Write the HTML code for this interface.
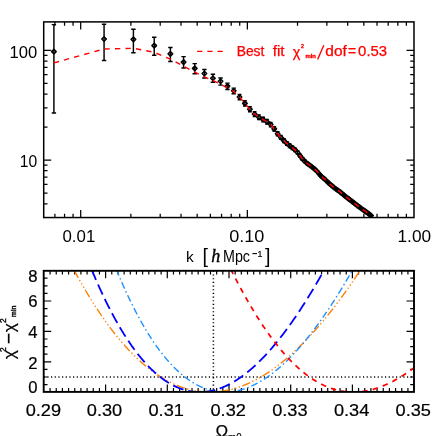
<!DOCTYPE html>
<html><head><meta charset="utf-8"><style>
html,body{margin:0;padding:0;background:#fff;}
svg{display:block;will-change:transform;font-family:"Liberation Sans",sans-serif;}
</style></head><body>
<svg width="436" height="436" viewBox="0 0 436 436">
<rect width="436" height="436" fill="#fff"/>
<path d="M54.89 217.55v-3.80M54.89 21.90v3.80M64.55 217.55v-3.80M64.55 21.90v3.80M73.07 217.55v-3.80M73.07 21.90v3.80M80.70 217.55v-7.50M80.70 21.90v7.50M130.87 217.55v-3.80M130.87 21.90v3.80M160.21 217.55v-3.80M160.21 21.90v3.80M181.03 217.55v-3.80M181.03 21.90v3.80M197.18 217.55v-3.80M197.18 21.90v3.80M210.38 217.55v-3.80M210.38 21.90v3.80M221.54 217.55v-3.80M221.54 21.90v3.80M231.20 217.55v-3.80M231.20 21.90v3.80M239.72 217.55v-3.80M239.72 21.90v3.80M247.35 217.55v-7.50M247.35 21.90v7.50M297.52 217.55v-3.80M297.52 21.90v3.80M326.86 217.55v-3.80M326.86 21.90v3.80M347.68 217.55v-3.80M347.68 21.90v3.80M363.83 217.55v-3.80M363.83 21.90v3.80M377.03 217.55v-3.80M377.03 21.90v3.80M388.19 217.55v-3.80M388.19 21.90v3.80M397.85 217.55v-3.80M397.85 21.90v3.80M406.37 217.55v-3.80M406.37 21.90v3.80M43.70 203.75h3.80M414.00 203.75h-3.80M43.70 193.12h3.80M414.00 193.12h-3.80M43.70 184.44h3.80M414.00 184.44h-3.80M43.70 177.09h3.80M414.00 177.09h-3.80M43.70 170.73h3.80M414.00 170.73h-3.80M43.70 165.12h3.80M414.00 165.12h-3.80M43.70 160.10h7.50M414.00 160.10h-7.50M43.70 127.08h3.80M414.00 127.08h-3.80M43.70 107.76h3.80M414.00 107.76h-3.80M43.70 94.05h3.80M414.00 94.05h-3.80M43.70 83.42h3.80M414.00 83.42h-3.80M43.70 74.74h3.80M414.00 74.74h-3.80M43.70 67.39h3.80M414.00 67.39h-3.80M43.70 61.03h3.80M414.00 61.03h-3.80M43.70 55.42h3.80M414.00 55.42h-3.80M43.70 50.40h7.50M414.00 50.40h-7.50" stroke="#000" stroke-width="1.25" fill="none"/>
<clipPath id="ct"><rect x="43.7" y="21.9" width="370.3" height="195.65"/></clipPath>
<g clip-path="url(#ct)"><path d="M53.90 24.60V112.90M51.70 24.60h4.4M51.70 112.90h4.4M104.07 24.30V60.40M101.87 24.30h4.4M101.87 60.40h4.4M133.41 29.30V52.80M131.21 29.30h4.4M131.21 52.80h4.4M154.23 37.30V55.30M152.03 37.30h4.4M152.03 55.30h4.4M170.38 47.40V61.40M168.18 47.40h4.4M168.18 61.40h4.4M183.58 56.60V67.90M181.38 56.60h4.4M181.38 67.90h4.4M194.74 63.60V73.70M192.54 63.60h4.4M192.54 73.70h4.4M204.40 69.40V78.00M202.20 69.40h4.4M202.20 78.00h4.4M212.92 74.20V82.30M210.72 74.20h4.4M210.72 82.30h4.4M220.55 78.00V85.10M218.35 78.00h4.4M218.35 85.10h4.4M227.45 83.10V89.40M225.25 83.10h4.4M225.25 89.40h4.4M233.75 88.10V93.70M231.55 88.10h4.4M231.55 93.70h4.4M239.54 94.41V99.67M237.64 94.41h3.8M237.64 99.67h3.8M244.90 100.84V105.96M243.00 100.84h3.8M243.00 105.96h3.8M249.90 106.81V111.79M248.00 106.81h3.8M248.00 111.79h3.8M254.57 111.65V116.49M252.67 111.65h3.8M252.67 116.49h3.8M258.95 114.85V119.55M257.05 114.85h3.8M257.05 119.55h3.8M263.09 117.31V121.87M261.19 117.31h3.8M261.19 121.87h3.8M267.00 119.59V124.01M265.10 119.59h3.8M265.10 124.01h3.8M270.72 122.38V126.66M268.82 122.38h3.8M268.82 126.66h3.8M274.25 126.79V130.93M272.35 126.79h3.8M272.35 130.93h3.8M277.61 131.72V135.72M275.71 131.72h3.8M275.71 135.72h3.8M280.83 135.50V139.36M278.93 135.50h3.8M278.93 139.36h3.8M283.91 138.75V142.47M282.01 138.75h3.8M282.01 142.47h3.8M286.87 141.68V145.26M284.97 141.68h3.8M284.97 145.26h3.8M289.71 144.05V147.49M287.81 144.05h3.8M287.81 147.49h3.8M292.44 146.12V149.42M290.54 146.12h3.8M290.54 149.42h3.8M295.07 148.28V151.44M293.17 148.28h3.8M293.17 151.44h3.8M297.61 150.90V153.92M295.71 150.90h3.8M295.71 153.92h3.8M300.06 154.23V157.11M298.16 154.23h3.8M298.16 157.11h3.8M302.44 157.53V160.27M300.54 157.53h3.8M300.54 160.27h3.8M304.73 159.97V162.57M302.83 159.97h3.8M302.83 162.57h3.8M306.96 161.98V164.44M305.06 161.98h3.8M305.06 164.44h3.8M309.12 163.64V165.96M307.22 163.64h3.8M307.22 165.96h3.8M311.22 165.23V167.41M309.32 165.23h3.8M309.32 167.41h3.8M313.26 166.93V168.97M311.36 166.93h3.8M311.36 168.97h3.8M315.24 168.68V170.58M313.34 168.68h3.8M313.34 170.58h3.8M317.17 170.62V172.38M315.27 170.62h3.8M315.27 172.38h3.8M319.05 172.94V174.56M317.15 172.94h3.8M317.15 174.56h3.8M320.88 175.08V176.68M318.98 175.08h3.8M318.98 176.68h3.8M322.67 176.70V178.30M320.77 176.70h3.8M320.77 178.30h3.8M324.41 178.09V179.69M322.51 178.09h3.8M322.51 179.69h3.8M326.12 179.66V181.26M324.22 179.66h3.8M324.22 181.26h3.8M327.78 181.31V182.91M325.88 181.31h3.8M325.88 182.91h3.8M329.41 182.80V184.40M327.51 182.80h3.8M327.51 184.40h3.8M331.00 184.22V185.82M329.10 184.22h3.8M329.10 185.82h3.8M332.56 185.55V187.15M330.66 185.55h3.8M330.66 187.15h3.8M334.08 186.79V188.39M332.18 186.79h3.8M332.18 188.39h3.8M335.57 187.91V189.51M333.67 187.91h3.8M333.67 189.51h3.8M337.03 188.89V190.49M335.13 188.89h3.8M335.13 190.49h3.8M338.47 189.86V191.46M336.57 189.86h3.8M336.57 191.46h3.8M339.87 190.93V192.53M337.97 190.93h3.8M337.97 192.53h3.8M341.25 192.06V193.66M339.35 192.06h3.8M339.35 193.66h3.8M342.60 193.20V194.80M340.70 193.20h3.8M340.70 194.80h3.8M343.93 194.33V195.93M342.03 194.33h3.8M342.03 195.93h3.8M345.24 195.39V196.99M343.34 195.39h3.8M343.34 196.99h3.8M346.52 196.40V198.00M344.62 196.40h3.8M344.62 198.00h3.8M347.78 197.38V198.98M345.88 197.38h3.8M345.88 198.98h3.8M349.01 198.33V199.93M347.11 198.33h3.8M347.11 199.93h3.8M350.23 199.26V200.86M348.33 199.26h3.8M348.33 200.86h3.8M351.43 200.18V201.78M349.53 200.18h3.8M349.53 201.78h3.8M352.60 201.08V202.68M350.70 201.08h3.8M350.70 202.68h3.8M353.76 201.97V203.57M351.86 201.97h3.8M351.86 203.57h3.8M354.90 202.84V204.44M353.00 202.84h3.8M353.00 204.44h3.8M356.02 203.70V205.30M354.12 203.70h3.8M354.12 205.30h3.8M357.13 204.55V206.15M355.23 204.55h3.8M355.23 206.15h3.8M358.22 205.37V206.97M356.32 205.37h3.8M356.32 206.97h3.8M359.29 206.17V207.77M357.39 206.17h3.8M357.39 207.77h3.8M360.34 206.95V208.55M358.44 206.95h3.8M358.44 208.55h3.8M361.39 207.71V209.31M359.49 207.71h3.8M359.49 209.31h3.8M362.41 208.44V210.04M360.51 208.44h3.8M360.51 210.04h3.8M363.42 209.15V210.75M361.52 209.15h3.8M361.52 210.75h3.8M364.42 209.86V211.46M362.52 209.86h3.8M362.52 211.46h3.8M365.41 210.56V212.16M363.51 210.56h3.8M363.51 212.16h3.8M366.38 211.26V212.86M364.48 211.26h3.8M364.48 212.86h3.8M367.34 211.95V213.55M365.44 211.95h3.8M365.44 213.55h3.8M368.28 212.64V214.24M366.38 212.64h3.8M366.38 214.24h3.8M369.22 213.32V214.92M367.32 213.32h3.8M367.32 214.92h3.8M370.14 214.00V215.60M368.24 214.00h3.8M368.24 215.60h3.8M371.05 214.67V216.27M369.15 214.67h3.8M369.15 216.27h3.8" stroke="#000" stroke-width="1.45" fill="none"/>
<path d="M51.65 51.60L53.90 49.35L56.15 51.60L53.90 53.85ZM101.82 39.00L104.07 36.75L106.32 39.00L104.07 41.25ZM131.16 39.40L133.41 37.15L135.66 39.40L133.41 41.65ZM151.98 45.60L154.23 43.35L156.48 45.60L154.23 47.85ZM168.13 53.90L170.38 51.65L172.63 53.90L170.38 56.15ZM181.33 62.10L183.58 59.85L185.83 62.10L183.58 64.35ZM192.49 68.40L194.74 66.15L196.99 68.40L194.74 70.65ZM202.15 73.50L204.40 71.25L206.65 73.50L204.40 75.75ZM210.67 78.30L212.92 76.05L215.17 78.30L212.92 80.55ZM218.30 81.30L220.55 79.05L222.80 81.30L220.55 83.55ZM225.20 86.10L227.45 83.85L229.70 86.10L227.45 88.35ZM231.50 90.80L233.75 88.55L236.00 90.80L233.75 93.05ZM237.29 97.04L239.54 94.79L241.79 97.04L239.54 99.29ZM242.65 103.40L244.90 101.15L247.15 103.40L244.90 105.65ZM247.65 109.30L249.90 107.05L252.15 109.30L249.90 111.55ZM252.32 114.07L254.57 111.82L256.82 114.07L254.57 116.32ZM256.70 117.20L258.95 114.95L261.20 117.20L258.95 119.45ZM260.84 119.59L263.09 117.34L265.34 119.59L263.09 121.84ZM264.75 121.80L267.00 119.55L269.25 121.80L267.00 124.05ZM268.47 124.52L270.72 122.27L272.97 124.52L270.72 126.77ZM272.00 128.86L274.25 126.61L276.50 128.86L274.25 131.11ZM275.36 133.72L277.61 131.47L279.86 133.72L277.61 135.97ZM278.58 137.43L280.83 135.18L283.08 137.43L280.83 139.68ZM281.66 140.61L283.91 138.36L286.16 140.61L283.91 142.86ZM284.62 143.47L286.87 141.22L289.12 143.47L286.87 145.72ZM287.46 145.77L289.71 143.52L291.96 145.77L289.71 148.02ZM290.19 147.77L292.44 145.52L294.69 147.77L292.44 150.02ZM292.82 149.86L295.07 147.61L297.32 149.86L295.07 152.11ZM295.36 152.41L297.61 150.16L299.86 152.41L297.61 154.66ZM297.81 155.67L300.06 153.42L302.31 155.67L300.06 157.92ZM300.19 158.90L302.44 156.65L304.69 158.90L302.44 161.15ZM302.48 161.27L304.73 159.02L306.98 161.27L304.73 163.52ZM304.71 163.21L306.96 160.96L309.21 163.21L306.96 165.46ZM306.87 164.80L309.12 162.55L311.37 164.80L309.12 167.05ZM308.97 166.32L311.22 164.07L313.47 166.32L311.22 168.57ZM311.01 167.95L313.26 165.70L315.51 167.95L313.26 170.20ZM312.99 169.63L315.24 167.38L317.49 169.63L315.24 171.88ZM314.92 171.50L317.17 169.25L319.42 171.50L317.17 173.75ZM316.80 173.75L319.05 171.50L321.30 173.75L319.05 176.00ZM318.63 175.88L320.88 173.63L323.13 175.88L320.88 178.13ZM320.42 177.50L322.67 175.25L324.92 177.50L322.67 179.75ZM322.16 178.89L324.41 176.64L326.66 178.89L324.41 181.14ZM323.87 180.46L326.12 178.21L328.37 180.46L326.12 182.71ZM325.53 182.11L327.78 179.86L330.03 182.11L327.78 184.36ZM327.16 183.60L329.41 181.35L331.66 183.60L329.41 185.85ZM328.75 185.02L331.00 182.77L333.25 185.02L331.00 187.27ZM330.31 186.35L332.56 184.10L334.81 186.35L332.56 188.60ZM331.83 187.59L334.08 185.34L336.33 187.59L334.08 189.84ZM333.32 188.71L335.57 186.46L337.82 188.71L335.57 190.96ZM334.78 189.69L337.03 187.44L339.28 189.69L337.03 191.94ZM336.22 190.66L338.47 188.41L340.72 190.66L338.47 192.91ZM337.62 191.73L339.87 189.48L342.12 191.73L339.87 193.98ZM339.00 192.86L341.25 190.61L343.50 192.86L341.25 195.11ZM340.35 194.00L342.60 191.75L344.85 194.00L342.60 196.25ZM341.68 195.13L343.93 192.88L346.18 195.13L343.93 197.38ZM342.99 196.19L345.24 193.94L347.49 196.19L345.24 198.44ZM344.27 197.20L346.52 194.95L348.77 197.20L346.52 199.45ZM345.53 198.18L347.78 195.93L350.03 198.18L347.78 200.43ZM346.76 199.13L349.01 196.88L351.26 199.13L349.01 201.38ZM347.98 200.06L350.23 197.81L352.48 200.06L350.23 202.31ZM349.18 200.98L351.43 198.73L353.68 200.98L351.43 203.23ZM350.35 201.88L352.60 199.63L354.85 201.88L352.60 204.13ZM351.51 202.77L353.76 200.52L356.01 202.77L353.76 205.02ZM352.65 203.64L354.90 201.39L357.15 203.64L354.90 205.89ZM353.77 204.50L356.02 202.25L358.27 204.50L356.02 206.75ZM354.88 205.35L357.13 203.10L359.38 205.35L357.13 207.60ZM355.97 206.17L358.22 203.92L360.47 206.17L358.22 208.42ZM357.04 206.97L359.29 204.72L361.54 206.97L359.29 209.22ZM358.09 207.75L360.34 205.50L362.59 207.75L360.34 210.00ZM359.14 208.51L361.39 206.26L363.64 208.51L361.39 210.76ZM360.16 209.24L362.41 206.99L364.66 209.24L362.41 211.49ZM361.17 209.95L363.42 207.70L365.67 209.95L363.42 212.20ZM362.17 210.66L364.42 208.41L366.67 210.66L364.42 212.91ZM363.16 211.36L365.41 209.11L367.66 211.36L365.41 213.61ZM364.13 212.06L366.38 209.81L368.63 212.06L366.38 214.31ZM365.09 212.75L367.34 210.50L369.59 212.75L367.34 215.00ZM366.03 213.44L368.28 211.19L370.53 213.44L368.28 215.69ZM366.97 214.12L369.22 211.87L371.47 214.12L369.22 216.37ZM367.89 214.80L370.14 212.55L372.39 214.80L370.14 217.05ZM368.80 215.47L371.05 213.22L373.30 215.47L371.05 217.72Z" stroke="#000" stroke-width="1.5" fill="none" stroke-linejoin="round"/>
<polyline points="53.90,62.90 104.07,48.97 133.41,48.30 154.23,52.31 170.38,59.09 183.58,66.19 194.74,72.22 204.40,76.80 212.92,80.51 220.55,84.32 227.45,87.63 233.75,91.53 239.54,97.04 244.90,103.40 249.90,109.30 254.57,114.07 258.95,117.20 263.09,119.59 267.00,121.80 270.72,124.52 274.25,128.86 277.61,133.72 280.83,137.43 283.91,140.61 286.87,143.47 289.71,145.77 292.44,147.77 295.07,149.86 297.61,152.41 300.06,155.67 302.44,158.90 304.73,161.27 306.96,163.21 309.12,164.80 311.22,166.32 313.26,167.95 315.24,169.63 317.17,171.50 319.05,173.75 320.88,175.88 322.67,177.50 324.41,178.89 326.12,180.46 327.78,182.11 329.41,183.60 331.00,185.02 332.56,186.35 334.08,187.59 335.57,188.71 337.03,189.69 338.47,190.66 339.87,191.73 341.25,192.86 342.60,194.00 343.93,195.13 345.24,196.19 346.52,197.20 347.78,198.18 349.01,199.13 350.23,200.06 351.43,200.98 352.60,201.88 353.76,202.77 354.90,203.64 356.02,204.50 357.13,205.35 358.22,206.17 359.29,206.97 360.34,207.75 361.39,208.51 362.41,209.24 363.42,209.95 364.42,210.66 365.41,211.36 366.38,212.06 367.34,212.75 368.28,213.44 369.22,214.12 370.14,214.80 371.05,215.47" stroke="#f00" stroke-width="1.4" fill="none" stroke-dasharray="5.3 5.2"/></g>
<rect x="43.7" y="21.9" width="370.3" height="195.65" fill="none" stroke="#000" stroke-width="1.5"/>
<path d="M197.1 51.4H223" stroke="#f00" stroke-width="1.4" stroke-dasharray="5.3 4.9" fill="none"/>
<path d="M50.07 391.90v-3.80M50.07 270.80v3.80M56.24 391.90v-3.80M56.24 270.80v3.80M62.41 391.90v-3.80M62.41 270.80v3.80M68.58 391.90v-3.80M68.58 270.80v3.80M74.75 391.90v-3.80M74.75 270.80v3.80M80.92 391.90v-3.80M80.92 270.80v3.80M87.09 391.90v-3.80M87.09 270.80v3.80M93.26 391.90v-3.80M93.26 270.80v3.80M99.43 391.90v-3.80M99.43 270.80v3.80M105.60 391.90v-7.50M105.60 270.80v7.50M111.77 391.90v-3.80M111.77 270.80v3.80M117.94 391.90v-3.80M117.94 270.80v3.80M124.11 391.90v-3.80M124.11 270.80v3.80M130.28 391.90v-3.80M130.28 270.80v3.80M136.45 391.90v-3.80M136.45 270.80v3.80M142.62 391.90v-3.80M142.62 270.80v3.80M148.79 391.90v-3.80M148.79 270.80v3.80M154.96 391.90v-3.80M154.96 270.80v3.80M161.13 391.90v-3.80M161.13 270.80v3.80M167.30 391.90v-7.50M167.30 270.80v7.50M173.47 391.90v-3.80M173.47 270.80v3.80M179.64 391.90v-3.80M179.64 270.80v3.80M185.81 391.90v-3.80M185.81 270.80v3.80M191.98 391.90v-3.80M191.98 270.80v3.80M198.15 391.90v-3.80M198.15 270.80v3.80M204.32 391.90v-3.80M204.32 270.80v3.80M210.49 391.90v-3.80M210.49 270.80v3.80M216.66 391.90v-3.80M216.66 270.80v3.80M222.83 391.90v-3.80M222.83 270.80v3.80M229.00 391.90v-7.50M229.00 270.80v7.50M235.17 391.90v-3.80M235.17 270.80v3.80M241.34 391.90v-3.80M241.34 270.80v3.80M247.51 391.90v-3.80M247.51 270.80v3.80M253.68 391.90v-3.80M253.68 270.80v3.80M259.85 391.90v-3.80M259.85 270.80v3.80M266.02 391.90v-3.80M266.02 270.80v3.80M272.19 391.90v-3.80M272.19 270.80v3.80M278.36 391.90v-3.80M278.36 270.80v3.80M284.53 391.90v-3.80M284.53 270.80v3.80M290.70 391.90v-7.50M290.70 270.80v7.50M296.87 391.90v-3.80M296.87 270.80v3.80M303.04 391.90v-3.80M303.04 270.80v3.80M309.21 391.90v-3.80M309.21 270.80v3.80M315.38 391.90v-3.80M315.38 270.80v3.80M321.55 391.90v-3.80M321.55 270.80v3.80M327.72 391.90v-3.80M327.72 270.80v3.80M333.89 391.90v-3.80M333.89 270.80v3.80M340.06 391.90v-3.80M340.06 270.80v3.80M346.23 391.90v-3.80M346.23 270.80v3.80M352.40 391.90v-7.50M352.40 270.80v7.50M358.57 391.90v-3.80M358.57 270.80v3.80M364.74 391.90v-3.80M364.74 270.80v3.80M370.91 391.90v-3.80M370.91 270.80v3.80M377.08 391.90v-3.80M377.08 270.80v3.80M383.25 391.90v-3.80M383.25 270.80v3.80M389.42 391.90v-3.80M389.42 270.80v3.80M395.59 391.90v-3.80M395.59 270.80v3.80M401.76 391.90v-3.80M401.76 270.80v3.80M407.93 391.90v-3.80M407.93 270.80v3.80M43.70 384.60h3.80M414.00 384.60h-3.80M43.70 377.00h3.80M414.00 377.00h-3.80M43.70 369.40h3.80M414.00 369.40h-3.80M43.70 361.80h7.50M414.00 361.80h-7.50M43.70 354.20h3.80M414.00 354.20h-3.80M43.70 346.60h3.80M414.00 346.60h-3.80M43.70 339.00h3.80M414.00 339.00h-3.80M43.70 331.40h7.50M414.00 331.40h-7.50M43.70 323.80h3.80M414.00 323.80h-3.80M43.70 316.20h3.80M414.00 316.20h-3.80M43.70 308.60h3.80M414.00 308.60h-3.80M43.70 301.00h7.50M414.00 301.00h-7.50M43.70 293.40h3.80M414.00 293.40h-3.80M43.70 285.80h3.80M414.00 285.80h-3.80M43.70 278.20h3.80M414.00 278.20h-3.80" stroke="#000" stroke-width="1.2" fill="none"/>
<clipPath id="cb"><rect x="43.7" y="270.8" width="370.3" height="121.09999999999997"/></clipPath>
<g clip-path="url(#cb)" fill="none">
<path d="M213.4 270.8V391.9M43.7 377.0H414.0" stroke="#000" stroke-width="1.55" stroke-dasharray="1.15 2.52"/>
<path d="M74.50 270.80L75.00 271.73L75.50 272.66L76.00 273.58L76.50 274.50L77.00 275.42L77.50 276.33L78.00 277.24L78.50 278.14L79.00 279.04L79.50 279.94L80.00 280.83L80.50 281.72L81.00 282.60L81.50 283.48L82.00 284.36L82.50 285.24L83.00 286.11L83.50 286.97L84.00 287.83L84.50 288.69L85.00 289.55L85.50 290.40L86.00 291.24L86.50 292.09L87.00 292.93L87.50 293.76L88.00 294.59L88.50 295.42L89.00 296.24L89.50 297.07L90.00 297.88L90.50 298.69L91.00 299.50L91.50 300.31L92.00 301.11L92.50 301.91L93.00 302.70L93.50 303.49L94.00 304.28L94.50 305.06L95.00 305.84L95.50 306.62L96.00 307.39L96.50 308.16L97.00 308.92L97.50 309.68L98.00 310.44L98.50 311.19L99.00 311.94L99.50 312.69L100.00 313.43L100.50 314.17L101.00 314.90L101.50 315.63L102.00 316.36L102.50 317.09L103.00 317.81L103.50 318.52L104.00 319.23L104.50 319.94L105.00 320.65L105.50 321.35L106.00 322.05L106.50 322.74L107.00 323.43L107.50 324.12L108.00 324.80L108.50 325.48L109.00 326.16L109.50 326.83L110.00 327.50L110.50 328.16L111.00 328.83L111.50 329.48L112.00 330.14L112.50 330.79L113.00 331.44L113.50 332.08L114.00 332.72L114.50 333.35L115.00 333.99L115.50 334.62L116.00 335.24L116.50 335.86L117.00 336.48L117.50 337.10L118.00 337.71L118.50 338.31L119.00 338.92L119.50 339.52L120.00 340.11L120.50 340.71L121.00 341.30L121.50 341.88L122.00 342.46L122.50 343.04L123.00 343.62L123.50 344.19L124.00 344.76L124.50 345.32L125.00 345.88L125.50 346.44L126.00 346.99L126.50 347.54L127.00 348.09L127.50 348.63L128.00 349.17L128.50 349.71L129.00 350.24L129.50 350.77L130.00 351.29L130.50 351.82L131.00 352.33L131.50 352.85L132.00 353.36L132.50 353.87L133.00 354.37L133.50 354.87L134.00 355.37L134.50 355.86L135.00 356.36L135.50 356.84L136.00 357.33L136.50 357.81L137.00 358.28L137.50 358.75L138.00 359.22L138.50 359.69L139.00 360.15L139.50 360.61L140.00 361.07L140.50 361.52L141.00 361.97L141.50 362.41L142.00 362.85L142.50 363.29L143.00 363.73L143.50 364.16L144.00 364.59L144.50 365.01L145.00 365.43L145.50 365.85L146.00 366.26L146.50 366.68L147.00 367.08L147.50 367.49L148.00 367.89L148.50 368.28L149.00 368.68L149.50 369.07L150.00 369.46L150.50 369.84L151.00 370.22L151.50 370.60L152.00 370.97L152.50 371.34L153.00 371.71L153.50 372.07L154.00 372.43L154.50 372.79L155.00 373.14L155.50 373.49L156.00 373.83L156.50 374.18L157.00 374.52L157.50 374.85L158.00 375.19L158.50 375.52L159.00 375.84L159.50 376.16L160.00 376.48L160.50 376.80L161.00 377.11L161.50 377.42L162.00 377.73L162.50 378.03L163.00 378.33L163.50 378.63L164.00 378.92L164.50 379.21L165.00 379.50L165.50 379.78L166.00 380.06L166.50 380.34L167.00 380.61L167.50 380.88L168.00 381.14L168.50 381.41L169.00 381.67L169.50 381.92L170.00 382.18L170.50 382.43L171.00 382.67L171.50 382.92L172.00 383.16L172.50 383.40L173.00 383.63L173.50 383.86L174.00 384.09L174.50 384.31L175.00 384.53L175.50 384.75L176.00 384.96L176.50 385.17L177.00 385.38L177.50 385.59L178.00 385.79L178.50 385.99L179.00 386.18L179.50 386.37L180.00 386.56L180.50 386.75L181.00 386.93L181.50 387.11L182.00 387.28L182.50 387.46L183.00 387.62L183.50 387.79L184.00 387.95L184.50 388.11L185.00 388.27L185.50 388.42L186.00 388.57L186.50 388.72L187.00 388.86L187.50 389.00L188.00 389.14L188.50 389.28L189.00 389.41L189.50 389.53L190.00 389.66L190.50 389.78L191.00 389.90L191.50 390.01L192.00 390.13L192.50 390.24L193.00 390.34L193.50 390.44L194.00 390.54L194.50 390.64L195.00 390.73L195.50 390.82L196.00 390.91L196.50 391.00L197.00 391.08L197.50 391.15L198.00 391.23L198.50 391.30L199.00 391.37L199.50 391.43L200.00 391.50L200.50 391.56L201.00 391.61L201.50 391.67L202.00 391.72L202.50 391.76L203.00 391.81L203.50 391.85L204.00 391.88L204.50 391.92L205.00 391.95L205.50 391.98L206.00 392.01L206.50 392.03L207.00 392.05L207.50 392.06L208.00 392.08L208.50 392.09L209.00 392.09L209.50 392.10L210.00 392.10L210.50 392.10L211.00 392.09L211.50 392.09L212.00 392.07L212.50 392.06L213.00 392.04L213.50 392.02L214.00 392.00L214.50 391.98L215.00 391.95L215.50 391.91L216.00 391.88L216.50 391.84L217.00 391.80L217.50 391.76L218.00 391.71L218.50 391.66L219.00 391.61L219.50 391.55L220.00 391.49L220.50 391.43L221.00 391.37L221.50 391.30L222.00 391.23L222.50 391.16L223.00 391.08L223.50 391.00L224.00 390.92L224.50 390.83L225.00 390.74L225.50 390.65L226.00 390.56L226.50 390.46L227.00 390.36L227.50 390.26L228.00 390.16L228.50 390.05L229.00 389.94L229.50 389.82L230.00 389.70L230.50 389.58L231.00 389.46L231.50 389.33L232.00 389.21L232.50 389.07L233.00 388.94L233.50 388.80L234.00 388.66L234.50 388.52L235.00 388.37L235.50 388.22L236.00 388.07L236.50 387.92L237.00 387.76L237.50 387.60L238.00 387.44L238.50 387.27L239.00 387.10L239.50 386.93L240.00 386.76L240.50 386.58L241.00 386.40L241.50 386.22L242.00 386.03L242.50 385.84L243.00 385.65L243.50 385.46L244.00 385.26L244.50 385.06L245.00 384.86L245.50 384.65L246.00 384.44L246.50 384.23L247.00 384.02L247.50 383.80L248.00 383.58L248.50 383.36L249.00 383.14L249.50 382.91L250.00 382.68L250.50 382.44L251.00 382.21L251.50 381.97L252.00 381.73L252.50 381.48L253.00 381.24L253.50 380.99L254.00 380.73L254.50 380.48L255.00 380.22L255.50 379.96L256.00 379.70L256.50 379.43L257.00 379.16L257.50 378.89L258.00 378.62L258.50 378.34L259.00 378.06L259.50 377.78L260.00 377.49L260.50 377.20L261.00 376.91L261.50 376.62L262.00 376.33L262.50 376.03L263.00 375.73L263.50 375.42L264.00 375.11L264.50 374.81L265.00 374.49L265.50 374.18L266.00 373.86L266.50 373.54L267.00 373.22L267.50 372.89L268.00 372.57L268.50 372.24L269.00 371.90L269.50 371.57L270.00 371.23L270.50 370.89L271.00 370.54L271.50 370.20L272.00 369.85L272.50 369.50L273.00 369.14L273.50 368.79L274.00 368.43L274.50 368.06L275.00 367.70L275.50 367.33L276.00 366.96L276.50 366.59L277.00 366.22L277.50 365.84L278.00 365.46L278.50 365.08L279.00 364.69L279.50 364.30L280.00 363.91L280.50 363.52L281.00 363.12L281.50 362.73L282.00 362.33L282.50 361.92L283.00 361.52L283.50 361.11L284.00 360.70L284.50 360.28L285.00 359.87L285.50 359.45L286.00 359.03L286.50 358.60L287.00 358.18L287.50 357.75L288.00 357.32L288.50 356.89L289.00 356.45L289.50 356.01L290.00 355.57L290.50 355.13L291.00 354.68L291.50 354.23L292.00 353.78L292.50 353.33L293.00 352.87L293.50 352.41L294.00 351.95L294.50 351.49L295.00 351.02L295.50 350.55L296.00 350.08L296.50 349.61L297.00 349.13L297.50 348.66L298.00 348.18L298.50 347.69L299.00 347.21L299.50 346.72L300.00 346.23L300.50 345.74L301.00 345.24L301.50 344.74L302.00 344.24L302.50 343.74L303.00 343.24L303.50 342.73L304.00 342.22L304.50 341.71L305.00 341.19L305.50 340.67L306.00 340.16L306.50 339.63L307.00 339.11L307.50 338.58L308.00 338.05L308.50 337.52L309.00 336.99L309.50 336.45L310.00 335.92L310.50 335.37L311.00 334.83L311.50 334.29L312.00 333.74L312.50 333.19L313.00 332.64L313.50 332.08L314.00 331.52L314.50 330.96L315.00 330.40L315.50 329.84L316.00 329.27L316.50 328.70L317.00 328.13L317.50 327.56L318.00 326.98L318.50 326.40L319.00 325.82L319.50 325.24L320.00 324.66L320.50 324.07L321.00 323.48L321.50 322.89L322.00 322.29L322.50 321.70L323.00 321.10L323.50 320.50L324.00 319.89L324.50 319.29L325.00 318.68L325.50 318.07L326.00 317.46L326.50 316.84L327.00 316.23L327.50 315.61L328.00 314.99L328.50 314.36L329.00 313.74L329.50 313.11L330.00 312.48L330.50 311.85L331.00 311.21L331.50 310.57L332.00 309.94L332.50 309.29L333.00 308.65L333.50 308.00L334.00 307.36L334.50 306.71L335.00 306.05L335.50 305.40L336.00 304.74L336.50 304.08L337.00 303.42L337.50 302.76L338.00 302.09L338.50 301.43L339.00 300.76L339.50 300.08L340.00 299.41L340.50 298.73L341.00 298.06L341.50 297.37L342.00 296.69L342.50 296.01L343.00 295.32L343.50 294.63L344.00 293.94L344.50 293.25L345.00 292.55L345.50 291.85L346.00 291.15L346.50 290.45L347.00 289.75L347.50 289.04L348.00 288.33L348.50 287.62L349.00 286.91L349.50 286.19L350.00 285.48L350.50 284.76L351.00 284.04L351.50 283.32L352.00 282.59L352.50 281.86L353.00 281.13L353.50 280.40L354.00 279.67L354.50 278.93L355.00 278.20L355.50 277.46L356.00 276.72L356.50 275.97L357.00 275.23L357.50 274.48L358.00 273.73L358.50 272.98L359.00 272.22L359.50 271.47L360.00 270.71" stroke="#ff8000" stroke-width="1.4" stroke-dasharray="8.5 2.5 1.3 2.5 1.3 2.5 1.3 2.5" stroke-dashoffset="0.5"/>
<path d="M116.95 270.87L117.45 272.08L117.95 273.29L118.45 274.48L118.95 275.67L119.45 276.85L119.95 278.03L120.45 279.20L120.95 280.36L121.45 281.52L121.95 282.67L122.45 283.81L122.95 284.94L123.45 286.07L123.95 287.19L124.45 288.30L124.95 289.41L125.45 290.51L125.95 291.61L126.45 292.69L126.95 293.77L127.45 294.85L127.95 295.92L128.45 296.98L128.95 298.03L129.45 299.08L129.95 300.12L130.45 301.15L130.95 302.18L131.45 303.20L131.95 304.21L132.45 305.22L132.95 306.22L133.45 307.22L133.95 308.21L134.45 309.19L134.95 310.16L135.45 311.13L135.95 312.09L136.45 313.05L136.95 314.00L137.45 314.94L137.95 315.88L138.45 316.81L138.95 317.73L139.45 318.65L139.95 319.56L140.45 320.46L140.95 321.36L141.45 322.25L141.95 323.14L142.45 324.02L142.95 324.89L143.45 325.76L143.95 326.62L144.45 327.47L144.95 328.32L145.45 329.16L145.95 329.99L146.45 330.82L146.95 331.65L147.45 332.46L147.95 333.27L148.45 334.08L148.95 334.88L149.45 335.67L149.95 336.46L150.45 337.24L150.95 338.01L151.45 338.78L151.95 339.54L152.45 340.30L152.95 341.05L153.45 341.79L153.95 342.53L154.45 343.26L154.95 343.99L155.45 344.71L155.95 345.42L156.45 346.13L156.95 346.83L157.45 347.53L157.95 348.22L158.45 348.90L158.95 349.58L159.45 350.25L159.95 350.92L160.45 351.58L160.95 352.24L161.45 352.89L161.95 353.53L162.45 354.17L162.95 354.80L163.45 355.43L163.95 356.05L164.45 356.66L164.95 357.27L165.45 357.87L165.95 358.47L166.45 359.06L166.95 359.65L167.45 360.23L167.95 360.80L168.45 361.37L168.95 361.94L169.45 362.49L169.95 363.05L170.45 363.59L170.95 364.14L171.45 364.67L171.95 365.20L172.45 365.73L172.95 366.24L173.45 366.76L173.95 367.27L174.45 367.77L174.95 368.27L175.45 368.76L175.95 369.24L176.45 369.72L176.95 370.20L177.45 370.67L177.95 371.13L178.45 371.59L178.95 372.04L179.45 372.49L179.95 372.93L180.45 373.37L180.95 373.80L181.45 374.23L181.95 374.65L182.45 375.07L182.95 375.48L183.45 375.88L183.95 376.28L184.45 376.68L184.95 377.07L185.45 377.45L185.95 377.83L186.45 378.20L186.95 378.57L187.45 378.94L187.95 379.29L188.45 379.65L188.95 379.99L189.45 380.34L189.95 380.67L190.45 381.01L190.95 381.33L191.45 381.66L191.95 381.97L192.45 382.28L192.95 382.59L193.45 382.89L193.95 383.19L194.45 383.48L194.95 383.77L195.45 384.05L195.95 384.32L196.45 384.60L196.95 384.86L197.45 385.12L197.95 385.38L198.45 385.63L198.95 385.88L199.45 386.12L199.95 386.36L200.45 386.59L200.95 386.81L201.45 387.04L201.95 387.25L202.45 387.46L202.95 387.67L203.45 387.87L203.95 388.07L204.45 388.26L204.95 388.45L205.45 388.63L205.95 388.81L206.45 388.98L206.95 389.15L207.45 389.32L207.95 389.48L208.45 389.63L208.95 389.78L209.45 389.92L209.95 390.06L210.45 390.20L210.95 390.33L211.45 390.45L211.95 390.57L212.45 390.69L212.95 390.80L213.45 390.91L213.95 391.01L214.45 391.11L214.95 391.20L215.45 391.29L215.95 391.37L216.45 391.45L216.95 391.53L217.45 391.60L217.95 391.66L218.45 391.72L218.95 391.78L219.45 391.83L219.95 391.88L220.45 391.92L220.95 391.96L221.45 391.99L221.95 392.02L222.45 392.04L222.95 392.06L223.45 392.08L223.95 392.09L224.45 392.10L224.95 392.10L225.45 392.10L225.95 392.09L226.45 392.08L226.95 392.06L227.45 392.04L227.95 392.02L228.45 391.99L228.95 391.96L229.45 391.92L229.95 391.88L230.45 391.83L230.95 391.78L231.45 391.73L231.95 391.67L232.45 391.60L232.95 391.54L233.45 391.46L233.95 391.39L234.45 391.31L234.95 391.22L235.45 391.13L235.95 391.04L236.45 390.94L236.95 390.84L237.45 390.73L237.95 390.62L238.45 390.51L238.95 390.39L239.45 390.27L239.95 390.14L240.45 390.01L240.95 389.87L241.45 389.73L241.95 389.59L242.45 389.44L242.95 389.29L243.45 389.13L243.95 388.97L244.45 388.81L244.95 388.64L245.45 388.47L245.95 388.29L246.45 388.11L246.95 387.93L247.45 387.74L247.95 387.55L248.45 387.35L248.95 387.15L249.45 386.94L249.95 386.73L250.45 386.52L250.95 386.30L251.45 386.08L251.95 385.86L252.45 385.63L252.95 385.40L253.45 385.16L253.95 384.92L254.45 384.68L254.95 384.43L255.45 384.17L255.95 383.92L256.45 383.66L256.95 383.39L257.45 383.13L257.95 382.85L258.45 382.58L258.95 382.30L259.45 382.02L259.95 381.73L260.45 381.44L260.95 381.14L261.45 380.84L261.95 380.54L262.45 380.23L262.95 379.92L263.45 379.61L263.95 379.29L264.45 378.97L264.95 378.65L265.45 378.32L265.95 377.98L266.45 377.65L266.95 377.31L267.45 376.96L267.95 376.62L268.45 376.26L268.95 375.91L269.45 375.55L269.95 375.19L270.45 374.82L270.95 374.45L271.45 374.08L271.95 373.70L272.45 373.32L272.95 372.94L273.45 372.55L273.95 372.16L274.45 371.76L274.95 371.36L275.45 370.96L275.95 370.55L276.45 370.14L276.95 369.73L277.45 369.31L277.95 368.89L278.45 368.47L278.95 368.04L279.45 367.61L279.95 367.18L280.45 366.74L280.95 366.30L281.45 365.85L281.95 365.40L282.45 364.95L282.95 364.50L283.45 364.04L283.95 363.57L284.45 363.11L284.95 362.64L285.45 362.17L285.95 361.69L286.45 361.21L286.95 360.73L287.45 360.24L287.95 359.75L288.45 359.25L288.95 358.76L289.45 358.26L289.95 357.75L290.45 357.25L290.95 356.74L291.45 356.22L291.95 355.70L292.45 355.18L292.95 354.66L293.45 354.13L293.95 353.60L294.45 353.07L294.95 352.53L295.45 351.99L295.95 351.44L296.45 350.90L296.95 350.35L297.45 349.79L297.95 349.23L298.45 348.67L298.95 348.11L299.45 347.54L299.95 346.97L300.45 346.40L300.95 345.82L301.45 345.24L301.95 344.66L302.45 344.07L302.95 343.48L303.45 342.89L303.95 342.29L304.45 341.69L304.95 341.09L305.45 340.49L305.95 339.88L306.45 339.26L306.95 338.65L307.45 338.03L307.95 337.41L308.45 336.78L308.95 336.16L309.45 335.52L309.95 334.89L310.45 334.25L310.95 333.61L311.45 332.97L311.95 332.32L312.45 331.67L312.95 331.02L313.45 330.36L313.95 329.70L314.45 329.04L314.95 328.38L315.45 327.71L315.95 327.04L316.45 326.36L316.95 325.68L317.45 325.00L317.95 324.32L318.45 323.63L318.95 322.94L319.45 322.25L319.95 321.56L320.45 320.86L320.95 320.15L321.45 319.45L321.95 318.74L322.45 318.03L322.95 317.32L323.45 316.60L323.95 315.88L324.45 315.16L324.95 314.43L325.45 313.71L325.95 312.97L326.45 312.24L326.95 311.50L327.45 310.76L327.95 310.02L328.45 309.27L328.95 308.52L329.45 307.77L329.95 307.02L330.45 306.26L330.95 305.50L331.45 304.73L331.95 303.97L332.45 303.20L332.95 302.43L333.45 301.65L333.95 300.87L334.45 300.09L334.95 299.31L335.45 298.52L335.95 297.73L336.45 296.94L336.95 296.15L337.45 295.35L337.95 294.55L338.45 293.75L338.95 292.94L339.45 292.13L339.95 291.32L340.45 290.51L340.95 289.69L341.45 288.87L341.95 288.04L342.45 287.22L342.95 286.39L343.45 285.56L343.95 284.73L344.45 283.89L344.95 283.05L345.45 282.21L345.95 281.36L346.45 280.52L346.95 279.67L347.45 278.81L347.95 277.96L348.45 277.10L348.95 276.24L349.45 275.37L349.95 274.51L350.45 273.64L350.95 272.77L351.45 271.89L351.95 271.01" stroke="#1e90ff" stroke-width="1.4" stroke-dasharray="7.0 2.9 1.5 2.9" stroke-dashoffset="2.0"/>
<path d="M92.15 270.82L92.65 272.01L93.15 273.20L93.65 274.38L94.15 275.55L94.65 276.72L95.15 277.88L95.65 279.03L96.15 280.18L96.65 281.32L97.15 282.46L97.65 283.59L98.15 284.71L98.65 285.82L99.15 286.93L99.65 288.03L100.15 289.13L100.65 290.22L101.15 291.30L101.65 292.38L102.15 293.45L102.65 294.52L103.15 295.57L103.65 296.63L104.15 297.67L104.65 298.71L105.15 299.74L105.65 300.77L106.15 301.79L106.65 302.80L107.15 303.81L107.65 304.81L108.15 305.81L108.65 306.80L109.15 307.78L109.65 308.76L110.15 309.73L110.65 310.69L111.15 311.65L111.65 312.60L112.15 313.54L112.65 314.48L113.15 315.42L113.65 316.34L114.15 317.27L114.65 318.18L115.15 319.09L115.65 319.99L116.15 320.89L116.65 321.78L117.15 322.66L117.65 323.54L118.15 324.41L118.65 325.28L119.15 326.14L119.65 326.99L120.15 327.84L120.65 328.68L121.15 329.52L121.65 330.35L122.15 331.17L122.65 331.99L123.15 332.80L123.65 333.61L124.15 334.41L124.65 335.21L125.15 335.99L125.65 336.78L126.15 337.55L126.65 338.32L127.15 339.09L127.65 339.85L128.15 340.60L128.65 341.35L129.15 342.09L129.65 342.82L130.15 343.55L130.65 344.28L131.15 344.99L131.65 345.71L132.15 346.41L132.65 347.11L133.15 347.81L133.65 348.50L134.15 349.18L134.65 349.86L135.15 350.53L135.65 351.19L136.15 351.85L136.65 352.51L137.15 353.16L137.65 353.80L138.15 354.44L138.65 355.07L139.15 355.69L139.65 356.31L140.15 356.93L140.65 357.54L141.15 358.14L141.65 358.74L142.15 359.33L142.65 359.92L143.15 360.50L143.65 361.07L144.15 361.64L144.65 362.20L145.15 362.76L145.65 363.32L146.15 363.86L146.65 364.40L147.15 364.94L147.65 365.47L148.15 366.00L148.65 366.52L149.15 367.03L149.65 367.54L150.15 368.04L150.65 368.54L151.15 369.03L151.65 369.52L152.15 370.00L152.65 370.47L153.15 370.94L153.65 371.41L154.15 371.87L154.65 372.32L155.15 372.77L155.65 373.21L156.15 373.65L156.65 374.08L157.15 374.51L157.65 374.93L158.15 375.35L158.65 375.76L159.15 376.16L159.65 376.56L160.15 376.96L160.65 377.35L161.15 377.73L161.65 378.11L162.15 378.49L162.65 378.85L163.15 379.22L163.65 379.58L164.15 379.93L164.65 380.28L165.15 380.62L165.65 380.96L166.15 381.29L166.65 381.61L167.15 381.94L167.65 382.25L168.15 382.56L168.65 382.87L169.15 383.17L169.65 383.46L170.15 383.76L170.65 384.04L171.15 384.32L171.65 384.60L172.15 384.87L172.65 385.13L173.15 385.39L173.65 385.64L174.15 385.89L174.65 386.14L175.15 386.38L175.65 386.61L176.15 386.84L176.65 387.07L177.15 387.29L177.65 387.50L178.15 387.71L178.65 387.91L179.15 388.11L179.65 388.31L180.15 388.50L180.65 388.68L181.15 388.86L181.65 389.04L182.15 389.21L182.65 389.37L183.15 389.53L183.65 389.68L184.15 389.83L184.65 389.98L185.15 390.12L185.65 390.26L186.15 390.39L186.65 390.51L187.15 390.63L187.65 390.75L188.15 390.86L188.65 390.97L189.15 391.07L189.65 391.16L190.15 391.26L190.65 391.34L191.15 391.42L191.65 391.50L192.15 391.57L192.65 391.64L193.15 391.71L193.65 391.76L194.15 391.82L194.65 391.87L195.15 391.91L195.65 391.95L196.15 391.99L196.65 392.02L197.15 392.04L197.65 392.06L198.15 392.08L198.65 392.09L199.15 392.10L199.65 392.10L200.15 392.10L200.65 392.09L201.15 392.08L201.65 392.06L202.15 392.04L202.65 392.02L203.15 391.99L203.65 391.95L204.15 391.91L204.65 391.87L205.15 391.82L205.65 391.77L206.15 391.71L206.65 391.65L207.15 391.58L207.65 391.51L208.15 391.44L208.65 391.36L209.15 391.27L209.65 391.19L210.15 391.09L210.65 391.00L211.15 390.89L211.65 390.79L212.15 390.68L212.65 390.56L213.15 390.44L213.65 390.32L214.15 390.19L214.65 390.06L215.15 389.92L215.65 389.78L216.15 389.63L216.65 389.48L217.15 389.33L217.65 389.17L218.15 389.00L218.65 388.84L219.15 388.66L219.65 388.49L220.15 388.31L220.65 388.12L221.15 387.93L221.65 387.74L222.15 387.54L222.65 387.34L223.15 387.14L223.65 386.93L224.15 386.71L224.65 386.49L225.15 386.27L225.65 386.04L226.15 385.81L226.65 385.58L227.15 385.34L227.65 385.09L228.15 384.84L228.65 384.59L229.15 384.34L229.65 384.08L230.15 383.81L230.65 383.54L231.15 383.27L231.65 382.99L232.15 382.71L232.65 382.43L233.15 382.14L233.65 381.84L234.15 381.55L234.65 381.25L235.15 380.94L235.65 380.63L236.15 380.32L236.65 380.00L237.15 379.68L237.65 379.35L238.15 379.02L238.65 378.69L239.15 378.35L239.65 378.01L240.15 377.67L240.65 377.32L241.15 376.97L241.65 376.61L242.15 376.25L242.65 375.88L243.15 375.51L243.65 375.14L244.15 374.76L244.65 374.38L245.15 374.00L245.65 373.61L246.15 373.22L246.65 372.82L247.15 372.42L247.65 372.02L248.15 371.61L248.65 371.20L249.15 370.79L249.65 370.37L250.15 369.94L250.65 369.52L251.15 369.09L251.65 368.65L252.15 368.22L252.65 367.77L253.15 367.33L253.65 366.88L254.15 366.43L254.65 365.97L255.15 365.51L255.65 365.05L256.15 364.58L256.65 364.11L257.15 363.63L257.65 363.16L258.15 362.67L258.65 362.19L259.15 361.70L259.65 361.20L260.15 360.71L260.65 360.21L261.15 359.70L261.65 359.20L262.15 358.68L262.65 358.17L263.15 357.65L263.65 357.13L264.15 356.60L264.65 356.07L265.15 355.54L265.65 355.01L266.15 354.47L266.65 353.92L267.15 353.38L267.65 352.83L268.15 352.27L268.65 351.71L269.15 351.15L269.65 350.59L270.15 350.02L270.65 349.45L271.15 348.88L271.65 348.30L272.15 347.72L272.65 347.13L273.15 346.54L273.65 345.95L274.15 345.36L274.65 344.76L275.15 344.15L275.65 343.55L276.15 342.94L276.65 342.33L277.15 341.71L277.65 341.09L278.15 340.47L278.65 339.85L279.15 339.22L279.65 338.59L280.15 337.95L280.65 337.31L281.15 336.67L281.65 336.02L282.15 335.38L282.65 334.72L283.15 334.07L283.65 333.41L284.15 332.75L284.65 332.08L285.15 331.42L285.65 330.74L286.15 330.07L286.65 329.39L287.15 328.71L287.65 328.03L288.15 327.34L288.65 326.65L289.15 325.95L289.65 325.26L290.15 324.56L290.65 323.85L291.15 323.15L291.65 322.44L292.15 321.73L292.65 321.01L293.15 320.29L293.65 319.57L294.15 318.85L294.65 318.12L295.15 317.39L295.65 316.65L296.15 315.92L296.65 315.17L297.15 314.43L297.65 313.69L298.15 312.94L298.65 312.18L299.15 311.43L299.65 310.67L300.15 309.91L300.65 309.14L301.15 308.38L301.65 307.61L302.15 306.83L302.65 306.06L303.15 305.28L303.65 304.50L304.15 303.71L304.65 302.92L305.15 302.13L305.65 301.34L306.15 300.54L306.65 299.74L307.15 298.94L307.65 298.13L308.15 297.33L308.65 296.51L309.15 295.70L309.65 294.88L310.15 294.06L310.65 293.24L311.15 292.42L311.65 291.59L312.15 290.76L312.65 289.92L313.15 289.09L313.65 288.25L314.15 287.41L314.65 286.56L315.15 285.71L315.65 284.86L316.15 284.01L316.65 283.15L317.15 282.29L317.65 281.43L318.15 280.57L318.65 279.70L319.15 278.83L319.65 277.96L320.15 277.09L320.65 276.21L321.15 275.33L321.65 274.45L322.15 273.56L322.65 272.67L323.15 271.78L323.65 270.89" stroke="#00f" stroke-width="1.8" stroke-dasharray="11 5" stroke-dashoffset="1.1"/>
<path d="M231.60 270.86L232.10 271.86L232.60 272.85L233.10 273.83L233.60 274.82L234.10 275.80L234.60 276.77L235.10 277.74L235.60 278.71L236.10 279.67L236.60 280.63L237.10 281.59L237.60 282.54L238.10 283.49L238.60 284.44L239.10 285.38L239.60 286.32L240.10 287.25L240.60 288.18L241.10 289.10L241.60 290.03L242.10 290.94L242.60 291.86L243.10 292.77L243.60 293.67L244.10 294.58L244.60 295.47L245.10 296.37L245.60 297.26L246.10 298.14L246.60 299.03L247.10 299.91L247.60 300.78L248.10 301.65L248.60 302.52L249.10 303.38L249.60 304.24L250.10 305.09L250.60 305.94L251.10 306.79L251.60 307.63L252.10 308.47L252.60 309.31L253.10 310.14L253.60 310.96L254.10 311.79L254.60 312.61L255.10 313.42L255.60 314.23L256.10 315.04L256.60 315.84L257.10 316.64L257.60 317.43L258.10 318.22L258.60 319.01L259.10 319.79L259.60 320.57L260.10 321.34L260.60 322.11L261.10 322.87L261.60 323.64L262.10 324.39L262.60 325.14L263.10 325.89L263.60 326.64L264.10 327.38L264.60 328.11L265.10 328.85L265.60 329.57L266.10 330.30L266.60 331.02L267.10 331.73L267.60 332.44L268.10 333.15L268.60 333.85L269.10 334.55L269.60 335.25L270.10 335.94L270.60 336.62L271.10 337.31L271.60 337.98L272.10 338.66L272.60 339.33L273.10 339.99L273.60 340.65L274.10 341.31L274.60 341.96L275.10 342.61L275.60 343.25L276.10 343.89L276.60 344.53L277.10 345.16L277.60 345.79L278.10 346.41L278.60 347.03L279.10 347.64L279.60 348.25L280.10 348.86L280.60 349.46L281.10 350.06L281.60 350.65L282.10 351.24L282.60 351.82L283.10 352.40L283.60 352.98L284.10 353.55L284.60 354.12L285.10 354.68L285.60 355.24L286.10 355.79L286.60 356.34L287.10 356.89L287.60 357.43L288.10 357.97L288.60 358.50L289.10 359.03L289.60 359.55L290.10 360.07L290.60 360.59L291.10 361.10L291.60 361.61L292.10 362.11L292.60 362.61L293.10 363.11L293.60 363.60L294.10 364.08L294.60 364.56L295.10 365.04L295.60 365.52L296.10 365.98L296.60 366.45L297.10 366.91L297.60 367.37L298.10 367.82L298.60 368.27L299.10 368.71L299.60 369.15L300.10 369.58L300.60 370.01L301.10 370.44L301.60 370.86L302.10 371.28L302.60 371.69L303.10 372.10L303.60 372.51L304.10 372.91L304.60 373.30L305.10 373.70L305.60 374.08L306.10 374.47L306.60 374.85L307.10 375.22L307.60 375.59L308.10 375.96L308.60 376.32L309.10 376.68L309.60 377.03L310.10 377.38L310.60 377.73L311.10 378.07L311.60 378.41L312.10 378.74L312.60 379.07L313.10 379.39L313.60 379.71L314.10 380.03L314.60 380.34L315.10 380.65L315.60 380.95L316.10 381.25L316.60 381.55L317.10 381.84L317.60 382.13L318.10 382.41L318.60 382.69L319.10 382.96L319.60 383.23L320.10 383.50L320.60 383.76L321.10 384.01L321.60 384.27L322.10 384.52L322.60 384.76L323.10 385.00L323.60 385.24L324.10 385.47L324.60 385.70L325.10 385.93L325.60 386.15L326.10 386.36L326.60 386.57L327.10 386.78L327.60 386.99L328.10 387.19L328.60 387.38L329.10 387.57L329.60 387.76L330.10 387.94L330.60 388.12L331.10 388.30L331.60 388.47L332.10 388.64L332.60 388.80L333.10 388.96L333.60 389.12L334.10 389.27L334.60 389.41L335.10 389.56L335.60 389.70L336.10 389.83L336.60 389.96L337.10 390.09L337.60 390.21L338.10 390.33L338.60 390.45L339.10 390.56L339.60 390.67L340.10 390.77L340.60 390.87L341.10 390.96L341.60 391.06L342.10 391.14L342.60 391.23L343.10 391.31L343.60 391.38L344.10 391.46L344.60 391.52L345.10 391.59L345.60 391.65L346.10 391.71L346.60 391.76L347.10 391.81L347.60 391.85L348.10 391.89L348.60 391.93L349.10 391.97L349.60 392.00L350.10 392.02L350.60 392.04L351.10 392.06L351.60 392.08L352.10 392.09L352.60 392.10L353.10 392.10L353.60 392.10L354.10 392.10L354.60 392.09L355.10 392.08L355.60 392.06L356.10 392.04L356.60 392.02L357.10 392.00L357.60 391.97L358.10 391.93L358.60 391.90L359.10 391.86L359.60 391.81L360.10 391.76L360.60 391.71L361.10 391.66L361.60 391.60L362.10 391.54L362.60 391.47L363.10 391.40L363.60 391.33L364.10 391.25L364.60 391.17L365.10 391.09L365.60 391.00L366.10 390.91L366.60 390.82L367.10 390.72L367.60 390.62L368.10 390.52L368.60 390.41L369.10 390.30L369.60 390.18L370.10 390.07L370.60 389.95L371.10 389.82L371.60 389.69L372.10 389.56L372.60 389.43L373.10 389.29L373.60 389.15L374.10 389.00L374.60 388.86L375.10 388.70L375.60 388.55L376.10 388.39L376.60 388.23L377.10 388.07L377.60 387.90L378.10 387.73L378.60 387.56L379.10 387.38L379.60 387.20L380.10 387.01L380.60 386.83L381.10 386.64L381.60 386.45L382.10 386.25L382.60 386.05L383.10 385.85L383.60 385.64L384.10 385.43L384.60 385.22L385.10 385.01L385.60 384.79L386.10 384.57L386.60 384.35L387.10 384.12L387.60 383.89L388.10 383.66L388.60 383.42L389.10 383.19L389.60 382.94L390.10 382.70L390.60 382.45L391.10 382.20L391.60 381.95L392.10 381.69L392.60 381.44L393.10 381.17L393.60 380.91L394.10 380.64L394.60 380.37L395.10 380.10L395.60 379.82L396.10 379.55L396.60 379.27L397.10 378.98L397.60 378.70L398.10 378.41L398.60 378.11L399.10 377.82L399.60 377.52L400.10 377.22L400.60 376.92L401.10 376.62L401.60 376.31L402.10 376.00L402.60 375.69L403.10 375.37L403.60 375.05L404.10 374.73L404.60 374.41L405.10 374.08L405.60 373.76L406.10 373.43L406.60 373.09L407.10 372.76L407.60 372.42L408.10 372.08L408.60 371.74L409.10 371.39L409.60 371.04L410.10 370.70L410.60 370.34L411.10 369.99L411.60 369.63L412.10 369.27L412.60 368.91L413.10 368.55L413.60 368.18L414.10 367.82L414.60 367.45" stroke="#f00" stroke-width="1.75" stroke-dasharray="5.4 5.2" stroke-dashoffset="1.9"/>
</g>
<rect x="43.7" y="270.8" width="370.3" height="121.09999999999997" fill="none" stroke="#000" stroke-width="1.9"/>
<text x="9.5" y="57.5" font-size="16.7" text-anchor="start" fill="#000" textLength="27.7" lengthAdjust="spacingAndGlyphs">100</text>
<text x="19.8" y="166.6" font-size="16.7" text-anchor="start" fill="#000" textLength="17.4" lengthAdjust="spacingAndGlyphs">10</text>
<text x="62.5" y="242.1" font-size="16.7" text-anchor="start" fill="#000" textLength="32.8" lengthAdjust="spacingAndGlyphs">0.01</text>
<text x="229.2" y="242.1" font-size="16.7" text-anchor="start" fill="#000" textLength="35.2" lengthAdjust="spacingAndGlyphs">0.10</text>
<text x="397.5" y="242.1" font-size="16.7" text-anchor="start" fill="#000" textLength="33.6" lengthAdjust="spacingAndGlyphs">1.00</text>
<text x="185.9" y="262.2" font-size="15.5" text-anchor="start" fill="#000">k</text>
<text x="202.6" y="262.9" font-size="19.7" text-anchor="start" fill="#000">[</text>
<text x="211.3" y="262.2" font-size="18" font-family="Liberation Serif, serif" font-style="italic" stroke="#000" stroke-width="0.35">h</text>
<text x="223.0" y="262.2" font-size="15.8" text-anchor="start" fill="#000" textLength="27.0" lengthAdjust="spacingAndGlyphs">Mpc</text>
<path d="M252.4 253.6h4.6" stroke="#000" stroke-width="1.1"/>
<text x="257.4" y="256.7" font-size="8.8" text-anchor="start" fill="#000" stroke="#000" stroke-width="0.2">1</text>
<text x="265.1" y="262.9" font-size="19.7" text-anchor="start" fill="#000">]</text>
<text x="236.7" y="55.7" font-size="13.8" text-anchor="start" fill="#f00" textLength="27.7" lengthAdjust="spacingAndGlyphs" stroke="#f00" stroke-width="0.25">Best</text>
<text x="272.7" y="55.7" font-size="13.8" text-anchor="start" fill="#f00" textLength="11.9" lengthAdjust="spacingAndGlyphs" stroke="#f00" stroke-width="0.25">fit</text>
<text x="292.85" y="56.7" font-size="14.5" text-anchor="start" fill="#f00" stroke="#f00" stroke-width="0.25">χ</text>
<text x="301.1" y="48.1" font-size="5.2" text-anchor="start" fill="#f00" stroke="#f00" stroke-width="0.4">2</text>
<text x="305.6" y="57.7" font-size="5" text-anchor="start" fill="#f00" textLength="10.1" lengthAdjust="spacingAndGlyphs" stroke="#f00" stroke-width="0.4">min</text>
<path d="M317.6 59.6L323.8 45.2" stroke="#f00" stroke-width="1.35" fill="none"/>
<text x="325.3" y="55.7" font-size="13.8" text-anchor="start" fill="#f00" textLength="21.5" lengthAdjust="spacingAndGlyphs" stroke="#f00" stroke-width="0.25">dof</text>
<text x="348.0" y="55.7" font-size="13.8" text-anchor="start" fill="#f00" textLength="8.1" lengthAdjust="spacingAndGlyphs" stroke="#f00" stroke-width="0.25">=</text>
<text x="358.1" y="55.7" font-size="13.8" text-anchor="start" fill="#f00" textLength="29.0" lengthAdjust="spacingAndGlyphs" stroke="#f00" stroke-width="0.25">0.53</text>
<text x="37.6" y="282.1" font-size="16.7" text-anchor="end" fill="#000" stroke="#000" stroke-width="0.2">8</text>
<text x="37.6" y="307.3" font-size="16.7" text-anchor="end" fill="#000" stroke="#000" stroke-width="0.2">6</text>
<text x="37.6" y="337.7" font-size="16.7" text-anchor="end" fill="#000" stroke="#000" stroke-width="0.2">4</text>
<text x="37.6" y="368.9" font-size="16.7" text-anchor="end" fill="#000" stroke="#000" stroke-width="0.2">2</text>
<text x="37.6" y="392.9" font-size="16.7" text-anchor="end" fill="#000" stroke="#000" stroke-width="0.2">0</text>
<text x="25.699999999999996" y="416.1" font-size="16.7" text-anchor="start" fill="#000" textLength="35.4" lengthAdjust="spacingAndGlyphs" stroke="#000" stroke-width="0.2">0.29</text>
<text x="86.80000000000001" y="416.1" font-size="16.7" text-anchor="start" fill="#000" textLength="35.4" lengthAdjust="spacingAndGlyphs" stroke="#000" stroke-width="0.2">0.30</text>
<text x="148.5" y="416.1" font-size="16.7" text-anchor="start" fill="#000" textLength="35.4" lengthAdjust="spacingAndGlyphs" stroke="#000" stroke-width="0.2">0.31</text>
<text x="210.5" y="416.1" font-size="16.7" text-anchor="start" fill="#000" textLength="35.4" lengthAdjust="spacingAndGlyphs" stroke="#000" stroke-width="0.2">0.32</text>
<text x="272.2" y="416.1" font-size="16.7" text-anchor="start" fill="#000" textLength="35.4" lengthAdjust="spacingAndGlyphs" stroke="#000" stroke-width="0.2">0.33</text>
<text x="333.9" y="416.1" font-size="16.7" text-anchor="start" fill="#000" textLength="35.4" lengthAdjust="spacingAndGlyphs" stroke="#000" stroke-width="0.2">0.34</text>
<text x="395.59999999999997" y="416.1" font-size="16.7" text-anchor="start" fill="#000" textLength="35.4" lengthAdjust="spacingAndGlyphs" stroke="#000" stroke-width="0.2">0.35</text>
<text x="215.5" y="436.8" font-size="17.0" text-anchor="start" fill="#000" stroke="#000" stroke-width="0.2">Ω</text>
<text x="228.0" y="440.6" font-size="10.9" text-anchor="start" fill="#000" textLength="13.6" lengthAdjust="spacingAndGlyphs" stroke="#000" stroke-width="0.2">m0</text>
<g transform="rotate(-90)" stroke="#000" stroke-width="0.2">
<text x="-359.2" y="14.6" font-size="17.4">χ</text>
<text x="-351.9" y="6.0" font-size="8.4" stroke-width="0.4">2</text>
<text x="-332.2" y="14.6" font-size="17.4">χ</text>
<text x="-322.9" y="6.0" font-size="8.4" stroke-width="0.4">2</text>
<text x="-316.9" y="16.1" font-size="7" stroke-width="0.4">min</text>
</g>
<path d="M8.7 343.3V333.6" stroke="#000" stroke-width="1.7"/>
</svg></body></html>
